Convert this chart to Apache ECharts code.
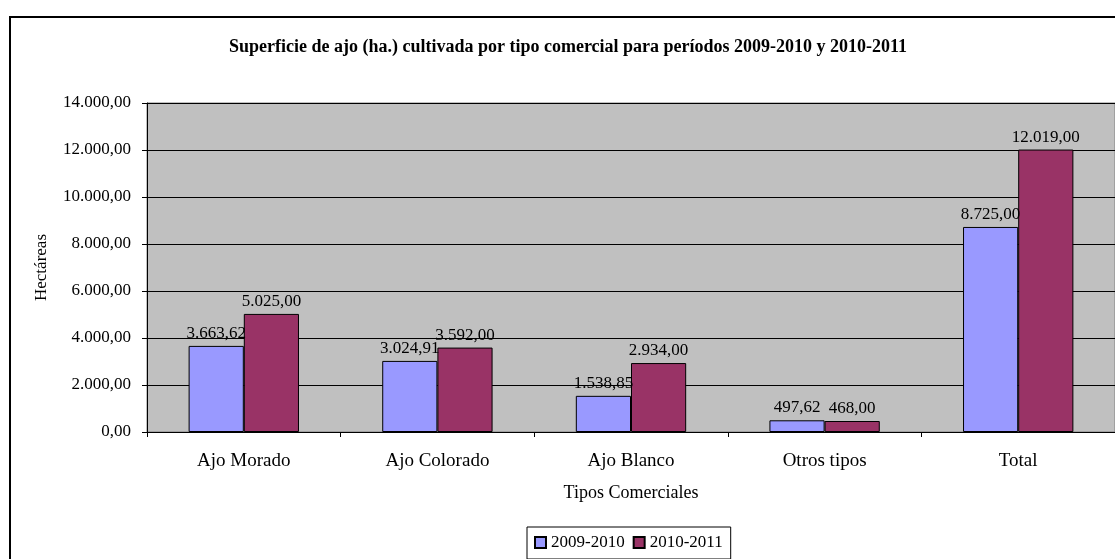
<!DOCTYPE html>
<html>
<head>
  <meta charset="utf-8">
  <title>Superficie de ajo</title>
  <style>
    html, body { margin: 0; padding: 0; background: #fff; }
    #chart { width: 1115px; height: 559px; }
  </style>
  <script src="https://cdn.jsdelivr.net/npm/echarts@6/dist/echarts.min.js"></script>
</head>
<body>
  <div id="chart"></div>
  <script>
    // datos
    var categorias = ['Ajo Morado', 'Ajo Colorado', 'Ajo Blanco', 'Otros tipos', 'Total'];
    var periodo1 = [3663.62, 3024.91, 1538.85, 497.62, 8725.00];
    var periodo2 = [5025.00, 3592.00, 2934.00, 468.00, 12019.00];
    var nombres = ['2009-2010', '2010-2011'];

    // formato 12.019,00
    function fmt(v) {
      var p = Number(v).toFixed(2).split('.');
      p[0] = p[0].replace(/\B(?=(\d{3})+(?!\d))/g, '.');
      return p[0] + ',' + p[1];
    }

    var fuente = 'Liberation Serif';
    var chart = echarts.init(document.getElementById('chart'));

    var etiqueta = {
      show: true,
      position: 'top',
      distance: 4,
      color: '#000',
      fontFamily: fuente,
      fontSize: 17,
      formatter: function (p) { return fmt(p.value); }
    };

    chart.setOption({
      animation: false,
      graphic: [{
        type: 'rect',
        shape: { x: 10, y: 17, width: 1300, height: 700 },
        style: { fill: 'none', stroke: '#000', lineWidth: 2 },
        z: 100
      }],
      title: {
        text: 'Superficie de ajo (ha.) cultivada por tipo comercial para períodos 2009-2010 y 2010-2011',
        left: 568,
        textAlign: 'center',
        top: 38,
        padding: 0,
        textStyle: { fontFamily: fuente, fontSize: 18, fontWeight: 'bold', color: '#000' }
      },
      legend: {
        data: nombres,
        left: 527,
        top: 527,
        padding: [7, 8, 8, 7],
        borderColor: '#000',
        borderWidth: 1,
        itemWidth: 11,
        itemHeight: 11,
        itemGap: 8,
        icon: 'rect',
        textStyle: { fontFamily: fuente, fontSize: 17, color: '#000' }
      },
      grid: {
        left: 147,
        right: 0,
        top: 103,
        bottom: 127,
        show: true,
        backgroundColor: '#c0c0c0',
        borderColor: '#808080',
        borderWidth: 1
      },
      xAxis: {
        type: 'category',
        data: categorias,
        name: 'Tipos Comerciales',
        nameLocation: 'middle',
        nameGap: 52,
        nameTextStyle: { fontFamily: fuente, fontSize: 18, color: '#000' },
        axisLine: { show: true, lineStyle: { color: '#000', width: 1 } },
        axisTick: { show: true, length: 5, lineStyle: { color: '#000' } },
        axisLabel: { margin: 20, fontFamily: fuente, fontSize: 19, color: '#000' }
      },
      yAxis: {
        type: 'value',
        min: 0,
        max: 14000,
        interval: 2000,
        name: 'Hectáreas',
        nameLocation: 'middle',
        nameGap: 97,
        nameTextStyle: { fontFamily: fuente, fontSize: 17, color: '#000' },
        axisLine: { show: true, lineStyle: { color: '#000', width: 1 } },
        axisTick: { show: true, length: 5, lineStyle: { color: '#000' } },
        axisLabel: {
          margin: 16, fontFamily: fuente, fontSize: 17, color: '#000',
          formatter: function (v) { return fmt(v); }
        },
        splitLine: { show: true, lineStyle: { color: '#000', width: 1 } }
      },
      series: [{
        name: nombres[0],
        type: 'bar',
        data: periodo1,
        barGap: '0%',
        barCategoryGap: '43%',
        itemStyle: { color: '#9999ff', borderColor: '#000', borderWidth: 1 },
        label: etiqueta
      }, {
        name: nombres[1],
        type: 'bar',
        data: periodo2,
        barGap: '0%',
        barCategoryGap: '43%',
        itemStyle: { color: '#993366', borderColor: '#000', borderWidth: 1 },
        label: etiqueta
      }]
    });
  </script>
</body>
</html>
